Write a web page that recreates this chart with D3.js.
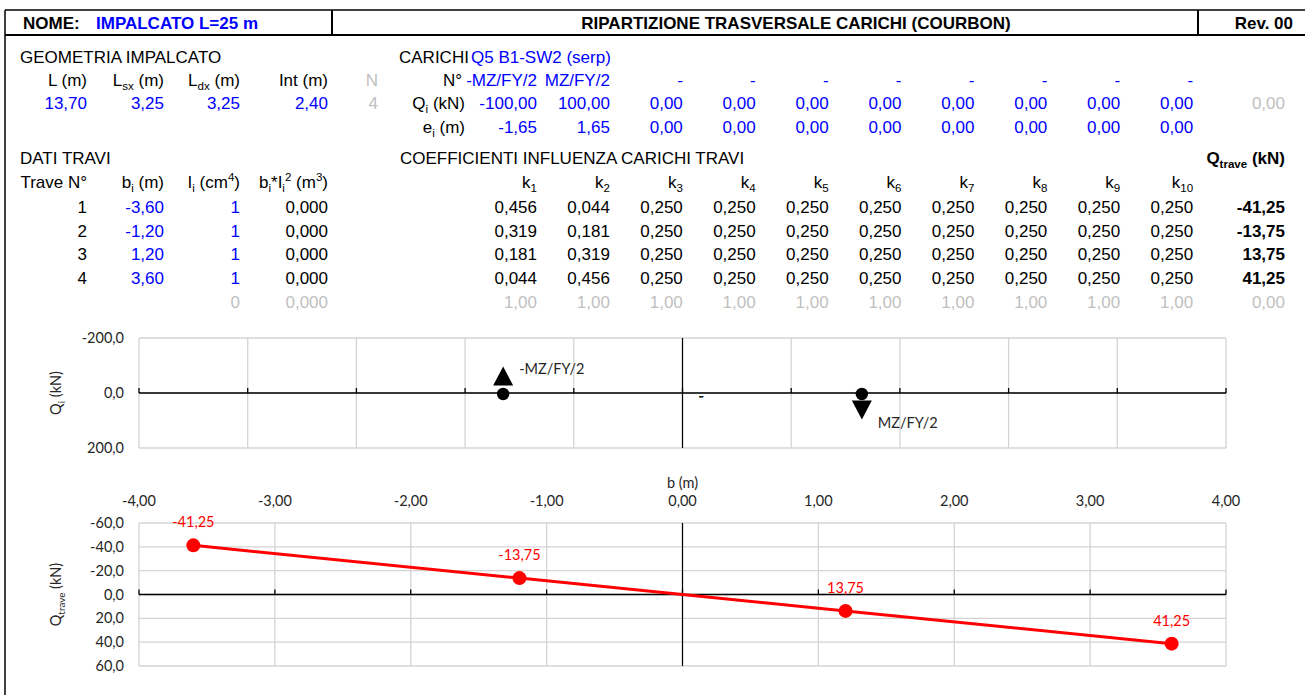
<!DOCTYPE html>
<html>
<head>
<meta charset="UTF-8">
<style>
  body { margin: 0; background: #fff; }
  svg { display: block; background: #fff; }
  .cell text { font-family: "Liberation Sans", Arial, sans-serif; font-size: 17px; }
  .chart text { font-family: Lato, "Open Sans", sans-serif; font-size: 14.5px; fill: #262626; }
</style>
</head>
<body>
<svg id="sheet" width="1305" height="695"></svg>
<script src="https://d3js.org/d3.v7.min.js"></script>
<script>
// ---- dati del foglio ----
const nome = "IMPALCATO L=25 m";
const titolo = "RIPARTIZIONE TRASVERSALE CARICHI (COURBON)";
const revisione = "Rev. 00";

const geomHeaders = [["L (m)"], ["L", ["sx", "sub"], " (m)"], ["L", ["dx", "sub"], " (m)"], ["Int (m)"]];
const geomValues = [13.70, 3.25, 3.25, 2.40];
const nTravi = 4;

const caricoNome = "Q5 B1-SW2 (serp)";
const loadNames = ["-MZ/FY/2", "MZ/FY/2", "-", "-", "-", "-", "-", "-", "-", "-"];
const loadQ = [-100, 100, 0, 0, 0, 0, 0, 0, 0, 0];
const loadE = [-1.65, 1.65, 0, 0, 0, 0, 0, 0, 0, 0];
const loadQSum = 0;

const traveN = [1, 2, 3, 4];
const traveB = [-3.60, -1.20, 1.20, 3.60];
const traveI = [1, 1, 1, 1];
const traveBI2 = [0, 0, 0, 0];
const coeffK = [
  [0.456, 0.044, 0.250, 0.250, 0.250, 0.250, 0.250, 0.250, 0.250, 0.250],
  [0.319, 0.181, 0.250, 0.250, 0.250, 0.250, 0.250, 0.250, 0.250, 0.250],
  [0.181, 0.319, 0.250, 0.250, 0.250, 0.250, 0.250, 0.250, 0.250, 0.250],
  [0.044, 0.456, 0.250, 0.250, 0.250, 0.250, 0.250, 0.250, 0.250, 0.250]
];
const qTrave = [-41.25, -13.75, 13.75, 41.25];
const sumI = 0, sumBI2 = 0, sumQ = 0;
const sumK = [1, 1, 1, 1, 1, 1, 1, 1, 1, 1];

// assi dei grafici
const qiTicks = [-200, 0, 200];
const qiGridB = [-5, -4, -3, -2, -1, 0, 1, 2, 3, 4, 5];
const qtTicks = [-60, -40, -20, 0, 20, 40, 60];
const bTicks = [-4, -3, -2, -1, 0, 1, 2, 3, 4];

// ---- formati all'italiana ----
const it = d3.formatLocale({ decimal: ",", thousands: ".", grouping: [3], currency: ["", " €"], minus: "-" });
const f1 = it.format(".1f"), f2 = it.format(".2f"), f3 = it.format(".3f");

const BLUE = "#0000ff", GREY = "#bfbfbf";

let svg = d3.select("#sheet");

// testo con pedici / apici
function rich(sel, x, y, parts, o = {}) {
  let t = sel.append("text")
    .attr("x", x).attr("y", y)
    .attr("text-anchor", o.anchor || "start")
    .attr("fill", o.fill || "#000")
    .attr("font-weight", o.bold ? "bold" : null);
  let shift = 0;
  parts.forEach(p => {
    let s = Array.isArray(p) ? p[0] : p;
    let kind = Array.isArray(p) ? p[1] : "";
    let target = kind === "sub" ? 4 : kind === "sup" ? -7 : 0;
    t.append("tspan")
      .attr("dy", target - shift)
      .attr("font-size", kind ? "0.68em" : null)
      .text(s);
    shift = target;
  });
  return t;
}

// ---- cornice ----
let frame = svg.append("g").attr("stroke", "#000").attr("fill", "none");
frame.append("line").attr("x1", 5).attr("x2", 1305).attr("y1", 10).attr("y2", 10).attr("stroke-width", 1.5);
frame.append("line").attr("x1", 5).attr("x2", 1305).attr("y1", 35).attr("y2", 35).attr("stroke-width", 2);
frame.append("line").attr("x1", 5).attr("x2", 5).attr("y1", 10).attr("y2", 695).attr("stroke-width", 1.5);
[332, 1198].forEach(x => frame.append("line").attr("x1", x).attr("x2", x).attr("y1", 10).attr("y2", 35).attr("stroke-width", 2));

// ---- tabella ----
let cell = svg.append("g").attr("class", "cell");
const base = 6; // dal centro riga alla linea di base
const rowY = { hdr: 23, r1: 57, r2: 80, r3: 103, r4: 127, r5: 158, r6: 182, beams: [207, 230.7, 254.3, 278], sum: 302 };
const colL = [87, 164, 240, 328, 378];
const colLab = 465;
const kCol = d3.range(10).map(i => 537 + i * 72.9);
const qCol = 1285;

rich(cell, 23, rowY.hdr + base, ["NOME:"], { bold: true });
rich(cell, 96, rowY.hdr + base, [nome], { bold: true, fill: BLUE });
rich(cell, 796, rowY.hdr + base, [titolo], { bold: true, anchor: "middle" });
rich(cell, 1293, rowY.hdr + base, [revisione], { bold: true, anchor: "end" });

rich(cell, 20, rowY.r1 + base, ["GEOMETRIA IMPALCATO"]);
rich(cell, 399, rowY.r1 + base, ["CARICHI"]);
rich(cell, 471, rowY.r1 + base, [caricoNome], { fill: BLUE });

geomHeaders.forEach((h, i) => rich(cell, colL[i], rowY.r2 + base, h, { anchor: "end" }));
rich(cell, colL[4], rowY.r2 + base, ["N"], { anchor: "end", fill: GREY });
geomValues.forEach((v, i) => rich(cell, colL[i], rowY.r3 + base, [f2(v)], { anchor: "end", fill: BLUE }));
rich(cell, colL[4], rowY.r3 + base, [String(nTravi)], { anchor: "end", fill: GREY });

rich(cell, 462, rowY.r2 + base, ["N°"], { anchor: "end" });
rich(cell, colLab, rowY.r3 + base, ["Q", ["i", "sub"], " (kN)"], { anchor: "end" });
rich(cell, colLab, rowY.r4 + base, ["e", ["i", "sub"], " (m)"], { anchor: "end" });
loadNames.forEach((n, i) => rich(cell, kCol[i], rowY.r2 + base, [n], { anchor: "end", fill: BLUE }));
loadQ.forEach((v, i) => rich(cell, kCol[i], rowY.r3 + base, [f2(v)], { anchor: "end", fill: BLUE }));
loadE.forEach((v, i) => rich(cell, kCol[i], rowY.r4 + base, [f2(v)], { anchor: "end", fill: BLUE }));
rich(cell, qCol, rowY.r3 + base, [f2(loadQSum)], { anchor: "end", fill: GREY });

rich(cell, 20, rowY.r5 + base, ["DATI TRAVI"]);
rich(cell, 400, rowY.r5 + base, ["COEFFICIENTI INFLUENZA CARICHI TRAVI"]);
rich(cell, qCol, rowY.r5 + base, ["Q", ["trave", "sub"], " (kN)"], { anchor: "end", bold: true });

rich(cell, colL[0], rowY.r6 + base, ["Trave N°"], { anchor: "end" });
rich(cell, colL[1], rowY.r6 + base, ["b", ["i", "sub"], " (m)"], { anchor: "end" });
rich(cell, colL[2], rowY.r6 + base, ["I", ["i", "sub"], " (cm", ["4", "sup"], ")"], { anchor: "end" });
rich(cell, colL[3], rowY.r6 + base, ["b", ["i", "sub"], "*I", ["i", "sub"], ["2", "sup"], " (m", ["3", "sup"], ")"], { anchor: "end" });
kCol.forEach((x, i) => rich(cell, x, rowY.r6 + base, ["k", [String(i + 1), "sub"]], { anchor: "end" }));

traveN.forEach((n, r) => {
  let y = rowY.beams[r] + base;
  rich(cell, colL[0], y, [String(n)], { anchor: "end" });
  rich(cell, colL[1], y, [f2(traveB[r])], { anchor: "end", fill: BLUE });
  rich(cell, colL[2], y, [String(traveI[r])], { anchor: "end", fill: BLUE });
  rich(cell, colL[3], y, [f3(traveBI2[r])], { anchor: "end" });
  coeffK[r].forEach((k, i) => rich(cell, kCol[i], y, [f3(k)], { anchor: "end" }));
  rich(cell, qCol, y, [f2(qTrave[r])], { anchor: "end", bold: true });
});

rich(cell, colL[2], rowY.sum + base, [String(sumI)], { anchor: "end", fill: GREY });
rich(cell, colL[3], rowY.sum + base, [f3(sumBI2)], { anchor: "end", fill: GREY });
sumK.forEach((k, i) => rich(cell, kCol[i], rowY.sum + base, [f2(k)], { anchor: "end", fill: GREY }));
rich(cell, qCol, rowY.sum + base, [f2(sumQ)], { anchor: "end", fill: GREY });

// ---- grafici ----
let chart = svg.append("g").attr("class", "chart");
const GRID = "#d4d4d4";
const left = 139, right = 1226, labX = 124, titX = 61;

function gridPlot(g, x, y, xs, ys) {
  g.selectAll(null).data(xs).enter().append("line")
    .attr("x1", d => x(d)).attr("x2", d => x(d))
    .attr("y1", y.range()[0]).attr("y2", y.range()[1])
    .attr("stroke", GRID).attr("stroke-width", 1.3);
  g.selectAll(null).data(ys).enter().append("line")
    .attr("x1", left).attr("x2", right)
    .attr("y1", d => y(d)).attr("y2", d => y(d))
    .attr("stroke", GRID).attr("stroke-width", 1.3);
  // asse y in b = 0
  g.append("line").attr("x1", x(0)).attr("x2", x(0))
    .attr("y1", y.range()[0]).attr("y2", y.range()[1])
    .attr("stroke", "#000").attr("stroke-width", 1.2);
  // asse x in Q = 0 con tacche
  g.append("line").attr("x1", left).attr("x2", right)
    .attr("y1", y(0)).attr("y2", y(0))
    .attr("stroke", "#000").attr("stroke-width", 1.6);
  g.selectAll(null).data(xs).enter().append("line")
    .attr("x1", d => x(d)).attr("x2", d => x(d))
    .attr("y1", y(0)).attr("y2", y(0) - 5)
    .attr("stroke", "#000").attr("stroke-width", 1.3);
  g.selectAll(null).data(ys).enter().append("text")
    .attr("x", labX).attr("y", d => y(d))
    .attr("dy", "0.35em").attr("text-anchor", "end")
    .text(d => f1(d));
}

// grafico carichi Q_i
let xTop = d3.scaleLinear().domain([-5, 5]).range([left, right]);
let yTop = d3.scaleLinear().domain([-200, 200]).range([338, 448]);
let gTop = chart.append("g");
gridPlot(gTop, xTop, yTop, qiGridB, qiTicks);
rich(gTop, 0, 0, ["Q", ["i", "sub"], " (kN)"], { anchor: "middle", fill: "#262626" })
  .attr("transform", `translate(${titX},${yTop(0)}) rotate(-90)`);

let loads = loadNames.map((n, i) => ({ name: n, q: loadQ[i], e: loadE[i] }));
let active = loads.filter(d => d.q !== 0);
const arrowK = 0.62;
let tri = "M0,-9.5L10,9.5L-10,9.5Z";
gTop.selectAll(null).data(active).enter().append("circle")
  .attr("cx", d => xTop(d.e)).attr("cy", yTop(0) + 1).attr("r", 6.2).attr("fill", "#000");
gTop.selectAll(null).data(active).enter().append("path")
  .attr("d", tri).attr("fill", "#000")
  .attr("transform", d => `translate(${xTop(d.e)},${yTop(d.q * arrowK)}) rotate(${d.q < 0 ? 0 : 180})`);
gTop.selectAll(null).data(loads).enter().append("text")
  .attr("x", d => xTop(d.e) + 16)
  .attr("y", d => yTop(d.q * arrowK) + Math.sign(d.q) * 10 + 3)
  .attr("dy", "0.35em")
  .text(d => d.name);

// grafico Q_trave
let xBot = d3.scaleLinear().domain([-4, 4]).range([left, right]);
let yBot = d3.scaleLinear().domain([-60, 60]).range([523, 666]);
let gBot = chart.append("g");
gridPlot(gBot, xBot, yBot, bTicks, qtTicks);
gBot.append("text").attr("x", xBot(0)).attr("y", 483).attr("dy", "0.35em")
  .attr("text-anchor", "middle").text("b (m)");
gBot.selectAll(null).data(bTicks).enter().append("text")
  .attr("x", d => xBot(d)).attr("y", 501).attr("dy", "0.35em")
  .attr("text-anchor", "middle").text(d => f2(d));
rich(gBot, 0, 0, ["Q", ["trave", "sub"], " (kN)"], { anchor: "middle", fill: "#262626" })
  .attr("transform", `translate(${titX},${yBot(0)}) rotate(-90)`);

let beams = traveB.map((b, i) => ({ b: b, q: qTrave[i] }));
gBot.append("path").datum(beams)
  .attr("d", d3.line().x(d => xBot(d.b)).y(d => yBot(d.q)))
  .attr("fill", "none").attr("stroke", "#ff0000").attr("stroke-width", 3);
gBot.selectAll(null).data(beams).enter().append("circle")
  .attr("cx", d => xBot(d.b)).attr("cy", d => yBot(d.q)).attr("r", 7).attr("fill", "#ff0000");
gBot.selectAll(null).data(beams).enter().append("text")
  .attr("x", d => xBot(d.b)).attr("y", d => yBot(d.q) - 23).attr("dy", "0.35em")
  .attr("text-anchor", "middle").style("fill", "#ff0000")
  .text(d => f2(d.q));
</script>
</body>
</html>
